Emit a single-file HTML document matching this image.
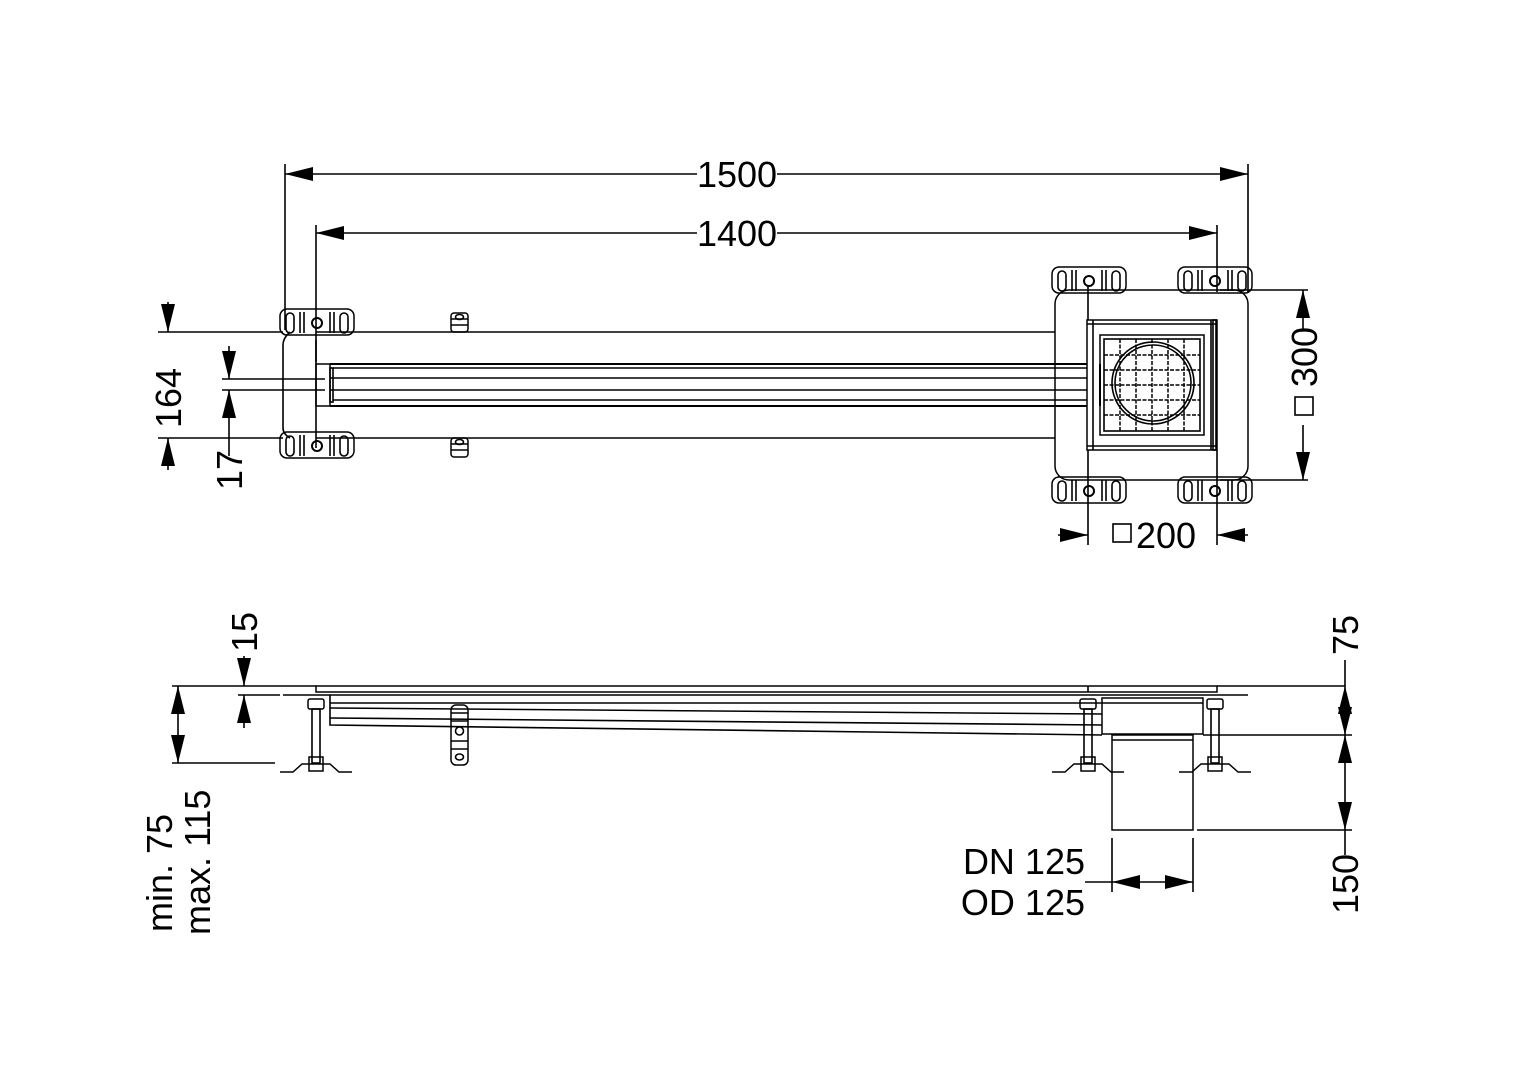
<!DOCTYPE html>
<html><head><meta charset="utf-8"><style>html,body{margin:0;padding:0;background:#fff}svg{display:block}text{font-family:"Liberation Sans",Arial,sans-serif;font-size:36px;fill:#000}</style></head><body>
<svg width="1528" height="1080" viewBox="0 0 1528 1080" xmlns="http://www.w3.org/2000/svg">
<defs>
<marker id="a" viewBox="0 0 28 14" refX="28" refY="7" markerWidth="28" markerHeight="14" markerUnits="userSpaceOnUse" orient="auto"><path d="M0,0L28,7L0,14Z" fill="#000"/></marker>
<g id="br"><rect x="0" y="0" width="74" height="26" rx="7" fill="none" stroke="#000" stroke-width="1.5"/><rect x="6" y="4" width="8" height="20" rx="4" fill="none" stroke="#000"/><rect x="60" y="4" width="8" height="20" rx="4" fill="none" stroke="#000"/><line x1="20" y1="3" x2="20" y2="24" stroke="#000"/><line x1="24" y1="3" x2="24" y2="24" stroke="#000"/><line x1="50" y1="3" x2="50" y2="24" stroke="#000"/><line x1="54" y1="3" x2="54" y2="24" stroke="#000"/><circle cx="37" cy="14" r="5" fill="none" stroke="#000" stroke-width="2"/></g>
<g id="clip"><rect x="0" y="0" width="17" height="19" rx="3" fill="none" stroke="#000" stroke-width="1.5"/><line x1="0" y1="6" x2="17" y2="6" stroke="#000"/><line x1="0" y1="12" x2="17" y2="12" stroke="#000"/><ellipse cx="8.5" cy="4" rx="4" ry="2.5" fill="none" stroke="#000"/></g>
<g id="bolt"><rect x="-8" y="0" width="16" height="10" rx="2" fill="none" stroke="#000" stroke-width="1.5"/><rect x="-4" y="10" width="8" height="54" fill="none" stroke="#000"/><rect x="-7" y="58" width="14" height="14" fill="none" stroke="#000" stroke-width="1.5"/><polyline points="-36,73 -23,73 -14,65 14,65 23,73 36,73" fill="none" stroke="#000" stroke-width="1.5"/></g>
</defs>
<g stroke="#000" fill="none" stroke-width="1.6">
<line x1="285" y1="164" x2="285" y2="330"/><line x1="1248" y1="164" x2="1248" y2="292"/>
<line x1="316" y1="225" x2="316" y2="362"/><line x1="1217" y1="225" x2="1217" y2="292"/>
<line x1="775" y1="174" x2="285" y2="174" marker-end="url(#a)"/><line x1="700" y1="174" x2="1248" y2="174" marker-end="url(#a)"/>
<line x1="775" y1="233" x2="316" y2="233" marker-end="url(#a)"/><line x1="700" y1="233" x2="1217" y2="233" marker-end="url(#a)"/>
<path d="M290,332 Q283,338 283,345 V428 Q283,434 290,438"/>
<use href="#br" x="280" y="309"/><use href="#br" x="280" y="432"/>
<line x1="316" y1="332" x2="1055" y2="332"/><line x1="316" y1="438" x2="1055" y2="438"/>
<line x1="316" y1="340" x2="316" y2="448"/>
<use href="#clip" x="451" y="313"/><use href="#clip" x="451" y="438"/>
<rect x="316" y="364" width="14" height="42" stroke-width="1.5"/>
<rect x="330" y="368" width="3" height="34"/>
<line x1="330" y1="364" x2="1100" y2="364" stroke-width="2"/><line x1="330" y1="406" x2="1100" y2="406" stroke-width="2"/>
<line x1="330" y1="378" x2="1100" y2="378"/><line x1="330" y1="390" x2="1100" y2="390"/><line x1="333" y1="368" x2="1100" y2="368"/><line x1="333" y1="400" x2="1100" y2="400"/>
<rect x="1055" y="290" width="193" height="190" rx="14" stroke-width="1.5"/>
<use href="#br" x="1052" y="267"/><use href="#br" x="1178" y="267"/><use href="#br" x="1052" y="477"/><use href="#br" x="1178" y="477"/>
<rect x="1087" y="320" width="130" height="130" fill="#fff" stroke-width="1.5"/>
<line x1="1093" y1="320" x2="1093" y2="450"/><line x1="1211" y1="320" x2="1211" y2="450"/><rect x="1213" y="320" width="3" height="130"/>
<line x1="1087" y1="324" x2="1217" y2="324"/><line x1="1087" y1="446" x2="1217" y2="446"/>
<rect x="1100" y="335" width="104" height="100" stroke-width="1.5" fill="#fff"/>
<rect x="1104" y="339" width="96" height="92"/>
<g stroke-dasharray="4,1.5" stroke-width="1.5"><line x1="1120" y1="339" x2="1120" y2="431"/><line x1="1136" y1="339" x2="1136" y2="431"/><line x1="1152" y1="339" x2="1152" y2="431"/><line x1="1168" y1="339" x2="1168" y2="431"/><line x1="1184" y1="339" x2="1184" y2="431"/>
<line x1="1104" y1="355" x2="1200" y2="355"/><line x1="1104" y1="370" x2="1200" y2="370"/><line x1="1104" y1="385" x2="1200" y2="385"/><line x1="1104" y1="400" x2="1200" y2="400"/><line x1="1104" y1="415" x2="1200" y2="415"/></g>
<circle cx="1153" cy="383" r="41"/><circle cx="1153" cy="383" r="38"/>
<line x1="1100" y1="364" x2="1100" y2="406" stroke-width="2"/>
<line x1="1088" y1="285" x2="1088" y2="320"/><line x1="1088" y1="450" x2="1088" y2="545"/><line x1="1217" y1="450" x2="1217" y2="545"/>
<line x1="1220" y1="290" x2="1308" y2="290"/><line x1="1220" y1="480" x2="1308" y2="480"/>
<line x1="1303" y1="330" x2="1303" y2="290" marker-end="url(#a)"/><line x1="1303" y1="425" x2="1303" y2="480" marker-end="url(#a)"/>
<line x1="1058" y1="535" x2="1088" y2="535" marker-end="url(#a)"/><line x1="1248" y1="535" x2="1217" y2="535" marker-end="url(#a)"/>
<rect x="1113" y="524" width="18" height="18"/><rect x="1295" y="397" width="18" height="18"/>
<line x1="158" y1="332" x2="283" y2="332"/><line x1="158" y1="438" x2="283" y2="438"/>
<line x1="168" y1="302" x2="168" y2="332" marker-end="url(#a)"/><line x1="168" y1="470" x2="168" y2="438" marker-end="url(#a)"/>
<line x1="222" y1="379" x2="325" y2="379"/><line x1="222" y1="390" x2="325" y2="390"/>
<line x1="229" y1="346" x2="229" y2="379" marker-end="url(#a)"/><line x1="229" y1="456" x2="229" y2="390" marker-end="url(#a)"/>
<line x1="172" y1="686" x2="316" y2="686"/><line x1="1217" y1="686" x2="1345" y2="686"/>
<rect x="316" y="686" width="901" height="6" stroke-width="1.5"/>
<line x1="1088" y1="686" x2="1088" y2="692"/>
<line x1="283" y1="695" x2="1248" y2="695" stroke-width="1.5"/>
<path d="M330,695 V725 L1102,735"/><line x1="330" y1="703" x2="1102" y2="703"/><line x1="330" y1="708" x2="1102" y2="714" stroke-width="1.5"/><line x1="330" y1="718" x2="1102" y2="725"/>
<rect x="1102" y="698" width="101" height="36" stroke-width="1.5"/><line x1="1102" y1="703" x2="1203" y2="703"/>
<rect x="1112" y="735" width="81" height="95" stroke-width="1.5"/><line x1="1112" y1="740" x2="1193" y2="740"/>
<use href="#bolt" x="316" y="699"/><use href="#bolt" x="1088" y="699"/><use href="#bolt" x="1215" y="699"/>
<g transform="translate(451,705)"><rect x="0" y="0" width="17" height="60" rx="5" stroke-width="1.5"/><line x1="0" y1="8" x2="17" y2="8"/><line x1="0" y1="16" x2="17" y2="16"/><line x1="0" y1="36" x2="17" y2="36"/><line x1="0" y1="44" x2="17" y2="44"/><circle cx="8.5" cy="26" r="4"/><ellipse cx="8.5" cy="52" rx="4" ry="3"/></g>
<line x1="244" y1="656" x2="244" y2="686" marker-end="url(#a)"/><line x1="244" y1="728" x2="244" y2="695" marker-end="url(#a)"/>
<line x1="238" y1="695" x2="280" y2="695"/>
<line x1="172" y1="763" x2="275" y2="763"/>
<line x1="178" y1="725" x2="178" y2="686" marker-end="url(#a)"/><line x1="178" y1="725" x2="178" y2="763" marker-end="url(#a)"/>
<line x1="1203" y1="735" x2="1352" y2="735"/><line x1="1197" y1="830" x2="1352" y2="830"/>
<line x1="1345" y1="712" x2="1345" y2="686" marker-end="url(#a)"/><line x1="1345" y1="708" x2="1345" y2="735" marker-end="url(#a)"/>
<line x1="1345" y1="785" x2="1345" y2="735" marker-end="url(#a)"/><line x1="1345" y1="785" x2="1345" y2="830" marker-end="url(#a)"/>
<line x1="1345" y1="660" x2="1345" y2="686"/><line x1="1345" y1="830" x2="1345" y2="855"/>
<line x1="1112" y1="838" x2="1112" y2="892"/><line x1="1193" y1="838" x2="1193" y2="892"/>
<line x1="1152" y1="882" x2="1112" y2="882" marker-end="url(#a)"/><line x1="1152" y1="882" x2="1193" y2="882" marker-end="url(#a)"/>
<line x1="1085" y1="882" x2="1112" y2="882"/>
</g>
<g>
<rect x="697" y="158" width="80" height="34" fill="#fff"/><text x="737" y="187" text-anchor="middle">1500</text>
<rect x="697" y="217" width="80" height="34" fill="#fff"/><text x="737" y="246" text-anchor="middle">1400</text>
<text x="1136" y="548">200</text>
<text transform="translate(1317,357) rotate(-90)" text-anchor="middle">300</text>
<text transform="translate(181,398) rotate(-90)" text-anchor="middle">164</text>
<text transform="translate(242,470) rotate(-90)" text-anchor="middle">17</text>
<text transform="translate(257,632) rotate(-90)" text-anchor="middle">15</text>
<text transform="translate(172,932) rotate(-90)">min. 75</text>
<text transform="translate(210,935) rotate(-90)">max. 115</text>
<text transform="translate(1358,635) rotate(-90)" text-anchor="middle">75</text>
<text transform="translate(1358,884) rotate(-90)" text-anchor="middle">150</text>
<text x="1085" y="874" text-anchor="end">DN 125</text>
<text x="1085" y="915" text-anchor="end">OD 125</text>
</g>
</svg>
</body></html>
